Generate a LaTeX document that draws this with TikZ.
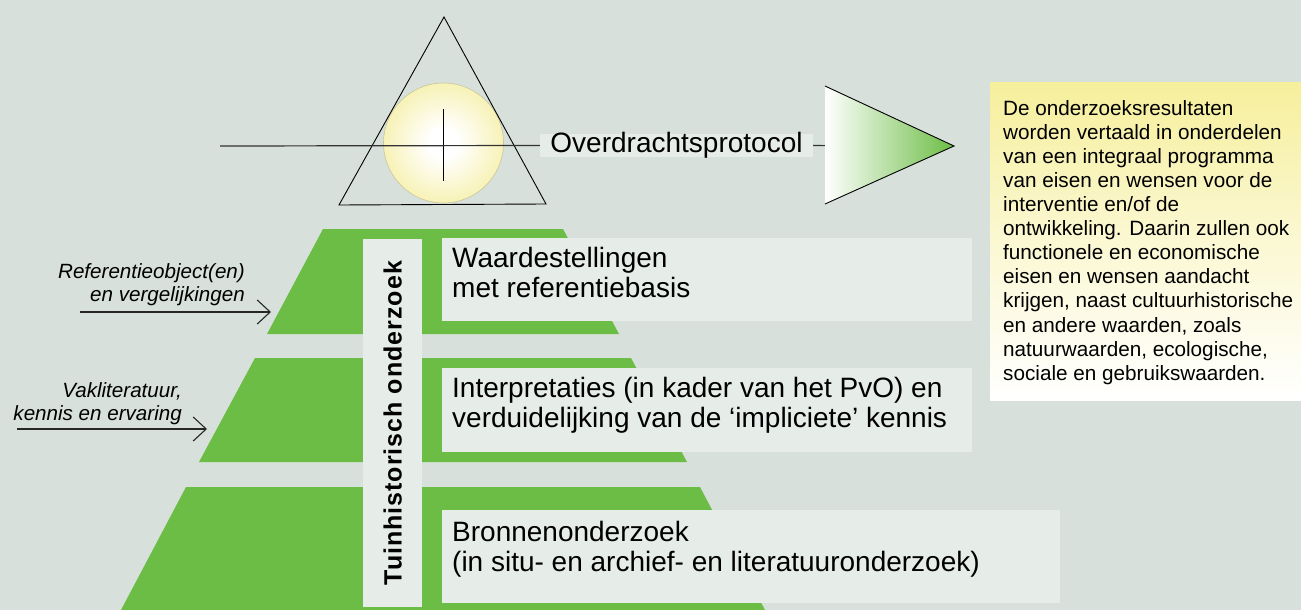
\documentclass[tikz,border=0pt]{standalone}
\usepackage{fontspec}
\setmainfont{Liberation Sans}
\usetikzlibrary{arrows.meta}
\definecolor{bg}{HTML}{D7E0DA}
\definecolor{boxc}{HTML}{E6ECE8}
\definecolor{grn}{HTML}{6CBD45}
\definecolor{yel}{HTML}{F6EF9C}
\definecolor{circy}{HTML}{F2E984}
\definecolor{circedge}{HTML}{C9C79A}
\pgfdeclareradialshading{sunshade}{\pgfpoint{0bp}{0bp}}{color(0bp)=(white); color(6bp)=(white); color(38bp)=(circy); color(50bp)=(circy)}
\begin{document}
\begin{tikzpicture}[x=1pt,y=-1pt,
  tier/.style={fill=grn, draw=none},
  lbox/.style={fill=boxc, draw=none, inner sep=0pt, anchor=north west},
  boxtext/.style={anchor=north west, inner sep=0pt, align=left, font=\fontsize{28}{30}\selectfont},
  sidetext/.style={anchor=north east, inner sep=0pt, align=right, font=\fontsize{20.6}{23.5}\selectfont\itshape},
  feed/.style={line width=1.1pt, draw=black!85, -{Straight Barb[length=13pt,width=24pt,line width=1.1pt]}},
  thin/.style={line width=0.9pt, draw=black},
  axis/.style={line width=1.2pt, draw=black!80}
]
\useasboundingbox (0,0) rectangle (1301,610);
\fill[bg] (0,0) rectangle (1301,610);

% pyramid tiers
\fill[tier] (323,229) -- (563,229) -- (619,334) -- (267,334) -- cycle;
\fill[tier] (255,358) -- (631,358) -- (687,462) -- (199,462) -- cycle;
\fill[tier] (186,487) -- (700,487) -- (765,610) -- (121,610) -- cycle;

% text boxes
\node[lbox, minimum width=530pt, minimum height=83pt] (b1) at (442,238) {};
\node[lbox, minimum width=530pt, minimum height=84pt] (b2) at (442,368) {};
\node[lbox, minimum width=618pt, minimum height=93pt] (b3) at (442,510) {};
\node[lbox, minimum width=59pt, minimum height=368pt] (vb) at (363,239) {};

\node[boxtext] (t1) at (452,246) {\strut Waardestellingen\\met referentiebasis};
\node[boxtext] (t2) at (452,376) {\strut Interpretaties (in kader van het PvO) en\\verduidelijking van de ‘impliciete’ kennis};
\node[boxtext] (t3) at (452,520) {\strut Bronnenonderzoek\\(in situ- en archief- en literatuuronderzoek)};

\node[rotate=90, inner sep=0pt, font=\fontsize{25}{28}\selectfont\bfseries\addfontfeature{LetterSpace=4}] (vt) at (vb.center) {Tuinhistorisch onderzoek};

% side labels and arrows
\node[sidetext] (s1) at (245,261.5) {\strut Referentieobject(en)\\en vergelijkingen};
\node[sidetext] (s2) at (182,380.5) {\strut Vakliteratuur,\\kennis en ervaring};
\coordinate (a1s) at (80,312);
\coordinate (a1e) at (271,312);
\coordinate (a2s) at (17,429);
\coordinate (a2e) at (207,429);
\draw[feed] (a1s) -- (a1e);
\draw[feed] (a2s) -- (a2e);

% top symbol: circle, triangle, cross lines
\shadedraw[shading=sunshade, draw=circedge, line width=0.6pt] (443.5,143) circle (60);
\coordinate (tA) at (444,17);
\coordinate (tB) at (546,204);
\coordinate (tC) at (339,205);
\draw[thin, line join=miter] (tA) -- (tB) -- (tC) -- cycle;
\coordinate (vtop) at (443,109);
\coordinate (vbot) at (443,181);
\draw[thin] (vtop) -- (vbot);

\node[fill=boxc, minimum width=273pt, minimum height=23pt, inner sep=0pt, text height=17pt, text depth=4pt, font=\fontsize{28}{30}\selectfont] (ov) at (676.5,145.5) {Overdrachtsprotocol};
\coordinate (hl) at (220,146);
\coordinate (hr) at (860,146);
\draw[axis] (hl) -- (ov.west);
\draw[axis] (ov.east) -- (hr);

% green gradient triangle
\coordinate (gA) at (825,86);
\coordinate (gB) at (954,146);
\coordinate (gC) at (825,204);
\shade[left color=white, right color=grn] (gA) -- (gB) -- (gC) -- cycle;
\draw[thin] (gA) -- (gB) -- (gC);

% yellow note
\shade[top color=yel, bottom color=white, middle color=yel!45!white] (990,82) rectangle (1301,400);
\node[anchor=north west, inner sep=0pt, align=left, font=\fontsize{20.7}{24.1}\selectfont] (note) at (1003,98.1) {\strut De onderzoeksresultaten\\worden vertaald in onderdelen\\van een integraal programma\\van eisen en wensen voor de\\interventie en/of de\\ontwikkeling. Daarin zullen ook\\functionele en economische\\eisen en wensen aandacht\\krijgen, naast cultuurhistorische\\en andere waarden, zoals\\natuurwaarden, ecologische,\\sociale en gebruikswaarden.};
\end{tikzpicture}
\end{document}
